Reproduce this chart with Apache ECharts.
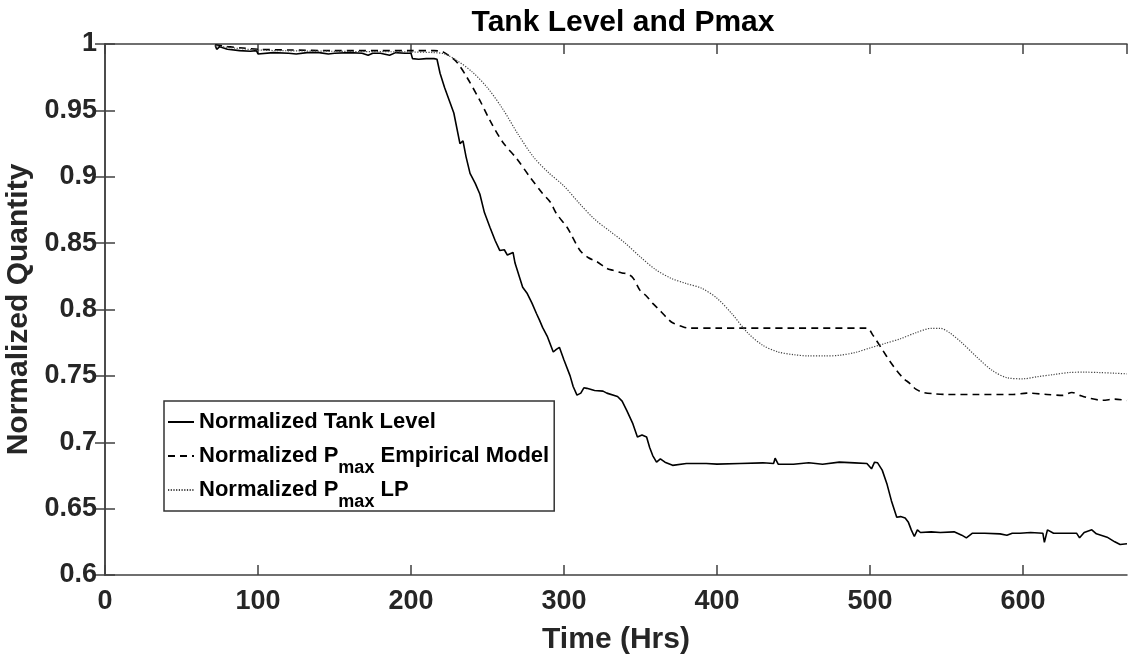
<!DOCTYPE html>
<html>
<head>
<meta charset="utf-8">
<script src="https://cdn.jsdelivr.net/npm/echarts@6/dist/echarts.min.js"></script>
<style>html,body{margin:0;padding:0;background:#fff}#c{width:1128px;height:658px}</style>
</head>
<body>
<div id="c"></div>
<script>
// ---------- data ----------
const tankTime = [72,73,75,80,88,95,99,100,110,120,125,132,140,146,150,160,168,172,175,180,186,190,196,200,201,205,210,215,217,219,222,225.5,228,232,234,236,238.6,242,245,248,251.6,255,258,261,263,266.7,268,273,276,279,282,284,286,289,293,295,297,300,304,306,308.5,311,313,315,320,325.5,328,335,338,341,345,348,351,354,356,358,360.5,363,366,371,380,393,400,415,430,437,438,440,450,460,469,480,490,498,501,503,505,508,511,514,517.5,520,523,525,527,529,531,533,540,546,555,560,563,567,575,585,589.5,593,598,605,613,614,616,620,630,635,637,640,645,648,655,660,663.5,668];
const tankLevel = [0.999,0.996,0.998,0.996,0.995,0.9945,0.995,0.9925,0.9935,0.993,0.9925,0.9935,0.9935,0.9925,0.993,0.9935,0.993,0.9915,0.993,0.993,0.9915,0.9935,0.993,0.993,0.989,0.9885,0.989,0.989,0.9885,0.978,0.967,0.956,0.948,0.925,0.927,0.915,0.9025,0.895,0.887,0.873,0.862,0.852,0.8445,0.845,0.841,0.843,0.835,0.8167,0.812,0.805,0.797,0.792,0.7865,0.78,0.768,0.770,0.7715,0.762,0.750,0.742,0.7355,0.737,0.741,0.7406,0.739,0.7385,0.737,0.7345,0.731,0.724,0.714,0.704,0.7055,0.704,0.696,0.690,0.685,0.6875,0.685,0.6826,0.684,0.684,0.6835,0.684,0.6845,0.684,0.688,0.6835,0.6834,0.6845,0.6834,0.685,0.6845,0.684,0.680,0.685,0.6845,0.679,0.669,0.656,0.6435,0.644,0.643,0.640,0.634,0.629,0.634,0.632,0.6325,0.632,0.6325,0.630,0.628,0.6315,0.6315,0.631,0.630,0.6315,0.6315,0.632,0.6315,0.6246,0.634,0.6315,0.6315,0.6315,0.628,0.632,0.634,0.631,0.6285,0.625,0.623,0.6235];

const empTime = [72,80,90,100,120,150,180,200,215,221,225,230,236.5,245,251.6,260,269,277.8,286,291,295,302,304,310.5,316,321.5,328,332,338,341,345,349.7,354,358,362.7,367,371,378,382,400,450,498,502,508.5,513,517.5,522,526,530,535,542,550,570,593.5,602.5,615.7,626,632,638,644,652,660,668];
const empPmax = [0.9995,0.998,0.997,0.996,0.9955,0.995,0.995,0.995,0.995,0.994,0.991,0.9863,0.975,0.9575,0.9424,0.926,0.9138,0.8997,0.8874,0.881,0.8724,0.862,0.858,0.8445,0.839,0.836,0.831,0.8295,0.8275,0.827,0.824,0.8144,0.810,0.8046,0.7993,0.794,0.790,0.7868,0.786,0.786,0.786,0.786,0.7805,0.769,0.761,0.754,0.748,0.7444,0.740,0.7375,0.7365,0.736,0.736,0.736,0.737,0.736,0.7353,0.7375,0.735,0.733,0.7316,0.7325,0.7315];

const lpTime = [72,100,150,200,215,222,230,240,250,260,270,280,290,300,310,320,330,340,350,360,370,380,390,400,410,420,430,440,450,460,470,480,490,500,510,520,530,540,546,552,560,570,580,590,600,610,620,630,640,650,660,668];
const lpPmax = [0.9985,0.9955,0.9945,0.994,0.9935,0.9925,0.9876,0.979,0.967,0.951,0.932,0.915,0.903,0.893,0.880,0.868,0.859,0.850,0.8395,0.830,0.8235,0.8195,0.816,0.8085,0.7965,0.7825,0.773,0.768,0.766,0.765,0.765,0.7655,0.7675,0.771,0.7745,0.778,0.7825,0.7858,0.7858,0.7825,0.775,0.764,0.754,0.7485,0.7478,0.7495,0.751,0.7525,0.7528,0.7525,0.752,0.7515];

const xTicks = [0,100,200,300,400,500,600];
const yTicks = [0.6,0.65,0.7,0.75,0.8,0.85,0.9,0.95,1];

const seriesNames = ['Normalized Tank Level','Normalized P_max Empirical Model','Normalized P_max LP'];

// ---------- chart ----------
const zip = (a,b)=>a.map((v,i)=>[v,b[i]]);
const FONT = '"Liberation Sans", Arial, Helvetica, sans-serif';
const AX = '#404040';
const LAB = '#262626';

const chart = echarts.init(document.getElementById('c'), null, {renderer:'canvas'});

const axisCommon = {
  axisLine:{show:true, lineStyle:{color:AX, width:1.5}},
  axisTick:{show:true, inside:true, length:10, lineStyle:{color:AX, width:1.5}},
  splitLine:{show:false}
};

chart.setOption({
  animation:false,
  backgroundColor:'#fff',
  title:{
    text:'Tank Level and Pmax',
    left:618, textAlign:'center', top:3,
    textStyle:{fontFamily:FONT, fontWeight:'bold', fontSize:30, color:'#000'}
  },
  grid:{left:105, right:1, top:44, bottom:83, containLabel:false, outerBoundsMode:'none'},
  legend:{
    orient:'vertical', left:164, top:401,
    itemWidth:26, itemHeight:14, itemGap:-8,
    padding:[0,5,0,3],
    borderColor:'#333', borderWidth:1.5, backgroundColor:'#fff',
    itemStyle:{opacity:0},
    data:seriesNames,
    formatter:function(name){
      if(name.indexOf('P_max')>=0){
        const parts = name.split('P_max');
        return '{a|'+parts[0]+'P}{s|max}{a|'+parts[1]+'}';
      }
      return '{a|'+name+'}';
    },
    textStyle:{
      fontFamily:FONT, fontWeight:'bold', fontSize:22, color:'#000', lineHeight:42,
      rich:{
        a:{fontFamily:FONT, fontWeight:'bold', fontSize:22, color:'#000', lineHeight:42, verticalAlign:'middle'},
        s:{fontFamily:FONT, fontWeight:'bold', fontSize:18, color:'#000', lineHeight:20, verticalAlign:'bottom'}
      }
    }
  },
  xAxis:[
    Object.assign({
      type:'value', position:'bottom', min:0, max:668, interval:100,
      name:'Time (Hrs)', nameLocation:'middle', nameGap:50,
      nameTextStyle:{fontFamily:FONT, fontWeight:'bold', fontSize:30, color:LAB},
      axisLabel:{show:true, fontFamily:FONT, fontWeight:'bold', fontSize:27, color:LAB, margin:13, showMaxLabel:false,
        formatter:function(v){ return xTicks.indexOf(Math.round(v))>=0 && Math.abs(v-Math.round(v))<1e-6 ? String(Math.round(v)) : ''; }}
    }, axisCommon),
    Object.assign({
      type:'value', position:'top', min:0, max:668, interval:100,
      axisLabel:{show:false}
    }, axisCommon)
  ],
  yAxis:[
    Object.assign({
      type:'value', position:'left', min:0.6, max:1, interval:0.05,
      name:'Normalized Quantity', nameLocation:'middle', nameGap:59, nameRotate:90,
      nameTextStyle:{fontFamily:FONT, fontWeight:'bold', fontSize:30, color:LAB},
      axisLabel:{show:true, fontFamily:FONT, fontWeight:'bold', fontSize:27, color:LAB, margin:8,
        formatter:function(v){ return String(parseFloat(v.toFixed(2))); }}
    }, axisCommon),
    Object.assign({
      type:'value', position:'right', min:0.6, max:1, interval:0.05,
      axisLabel:{show:false}
    }, axisCommon)
  ],
  series:[
    {name:seriesNames[0], type:'line', xAxisIndex:0, yAxisIndex:0, symbol:'none', data:zip(tankTime,tankLevel),
     lineStyle:{color:'#000', width:1.6, type:'solid'}, itemStyle:{color:'#000'}},
    {name:seriesNames[1], type:'line', xAxisIndex:0, yAxisIndex:0, symbol:'none', smooth:0.3, data:zip(empTime,empPmax),
     lineStyle:{color:'#000', width:1.6, type:[7,5]}, itemStyle:{color:'#000'}},
    {name:seriesNames[2], type:'line', xAxisIndex:0, yAxisIndex:0, symbol:'none', smooth:0.3, data:zip(lpTime,lpPmax),
     lineStyle:{color:'#444', width:1.2, type:[1.2,1.5]}, itemStyle:{color:'#444'}}
  ]
});
</script>
</body>
</html>
